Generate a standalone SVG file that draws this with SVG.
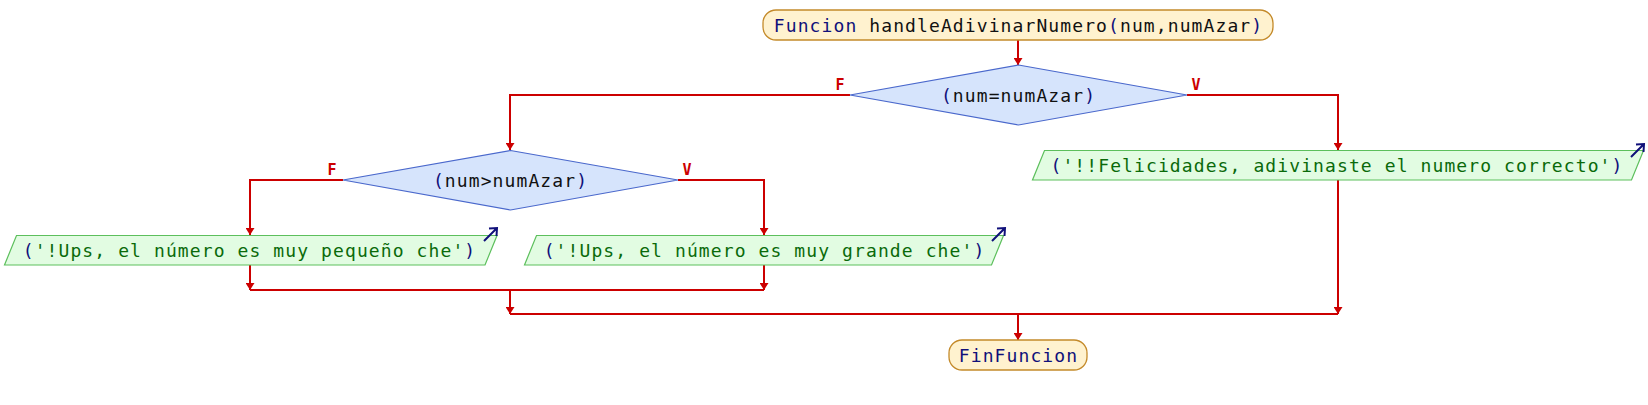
<svg xmlns="http://www.w3.org/2000/svg" xmlns:xlink="http://www.w3.org/1999/xlink" width="1648" height="405" viewBox="0 0 1648 405">
<style>
  .t { font-family: "DejaVu Sans Mono", "Liberation Mono", monospace; font-size: 18px; letter-spacing: 1.1px; }
  .term { fill: #fff2cf; stroke: #c48a2a; stroke-width: 1.3; }
  .dec { fill: #d6e4fc; stroke: #4a68cc; stroke-width: 1.2; }
  .out { fill: #e2fce2; stroke: #5cbf5c; stroke-width: 1.2; }
  .kw { fill: #10107a; }
  .id { fill: #111111; }
  .str { fill: #0a6a0a; }
  .lbl { font-family: "DejaVu Sans Mono", "Liberation Mono", monospace; font-size: 15px; font-weight: bold; fill: #cc0000; text-anchor: middle; }
  .cn { fill: none; stroke: #cc0000; stroke-width: 2; }
  .icon { fill: none; stroke: #10107a; stroke-width: 2; }
</style>
<defs>
  <marker id="ah" viewBox="0 -4.5 7 9" refX="7" refY="0" markerWidth="7" markerHeight="9" markerUnits="userSpaceOnUse" orient="auto">
    <path d="M0,-4.5 L7,0 L0,4.5 z" fill="#cc0000"/>
  </marker>
  <g id="outIcon">
    <path class="icon" d="M-13,13 L0,0 M-8,0.5 L0,0 L-0.5,8"/>
  </g>
</defs>

<g id="connectors">
  <path class="cn" d="M1018,40 V65" marker-end="url(#ah)"/>
  <path class="cn" d="M850,95 H510 V150" marker-end="url(#ah)"/>
  <path class="cn" d="M1187,95 H1338 V150" marker-end="url(#ah)"/>
  <path class="cn" d="M343,180 H250 V235" marker-end="url(#ah)"/>
  <path class="cn" d="M678,180 H764 V235" marker-end="url(#ah)"/>
  <path class="cn" d="M250,265 V290" marker-end="url(#ah)"/>
  <path class="cn" d="M764,265 V290" marker-end="url(#ah)"/>
  <path class="cn" d="M250,290 H764"/>
  <path class="cn" d="M510,290 V314" marker-end="url(#ah)"/>
  <path class="cn" d="M1338,180 V314" marker-end="url(#ah)"/>
  <path class="cn" d="M510,314 H1338"/>
  <path class="cn" d="M1018,314 V340" marker-end="url(#ah)"/>
  <text class="lbl" x="840" y="90">F</text>
  <text class="lbl" x="1196" y="90">V</text>
  <text class="lbl" x="332" y="175">F</text>
  <text class="lbl" x="687" y="175">V</text>
</g>

<g id="start">
  <rect class="term" x="763" y="10" width="510" height="30" rx="13" ry="13"/>
  <text class="t" x="1018.5" y="31.5" text-anchor="middle"><tspan class="kw">Funcion</tspan><tspan class="id"> handleAdivinarNumero</tspan><tspan class="kw">(</tspan><tspan class="id">num,numAzar</tspan><tspan class="kw">)</tspan></text>
</g>

<g id="dec1">
  <polygon class="dec" points="1018.5,65 1187,95 1018.5,125 850,95"/>
  <text class="t" x="1018.5" y="101.5" text-anchor="middle"><tspan class="kw">(</tspan><tspan class="id">num=numAzar</tspan><tspan class="kw">)</tspan></text>
</g>

<g id="dec2">
  <polygon class="dec" points="510.5,150.5 678,180 510.5,210 343,180"/>
  <text class="t" x="510.5" y="186.5" text-anchor="middle"><tspan class="kw">(</tspan><tspan class="id">num&gt;numAzar</tspan><tspan class="kw">)</tspan></text>
</g>

<g id="outSmall">
  <polygon class="out" points="16.5,235.5 497,235.5 485,265 4.5,265"/>
  <text class="t" x="249.5" y="256.5" text-anchor="middle"><tspan class="kw">(</tspan><tspan class="str">'!Ups, el número es muy pequeño che'</tspan><tspan class="kw">)</tspan></text>
  <use xlink:href="#outIcon" x="497" y="228"/>
</g>

<g id="outBig">
  <polygon class="out" points="536.5,235.5 1003.5,235.5 991.5,265 524.5,265"/>
  <text class="t" x="764.5" y="256.5" text-anchor="middle"><tspan class="kw">(</tspan><tspan class="str">'!Ups, el número es muy grande che'</tspan><tspan class="kw">)</tspan></text>
  <use xlink:href="#outIcon" x="1005" y="228"/>
</g>

<g id="outOk">
  <polygon class="out" points="1044.5,150.5 1643.5,150.5 1631.5,180 1032.5,180"/>
  <text class="t" x="1337" y="172" text-anchor="middle"><tspan class="kw">(</tspan><tspan class="str">'!!Felicidades, adivinaste el numero correcto'</tspan><tspan class="kw">)</tspan></text>
  <use xlink:href="#outIcon" x="1644" y="144"/>
</g>

<g id="end">
  <rect class="term" x="949" y="340" width="138" height="30" rx="13" ry="13"/>
  <text class="t kw" x="1018.5" y="361.5" text-anchor="middle">FinFuncion</text>
</g>
</svg>
